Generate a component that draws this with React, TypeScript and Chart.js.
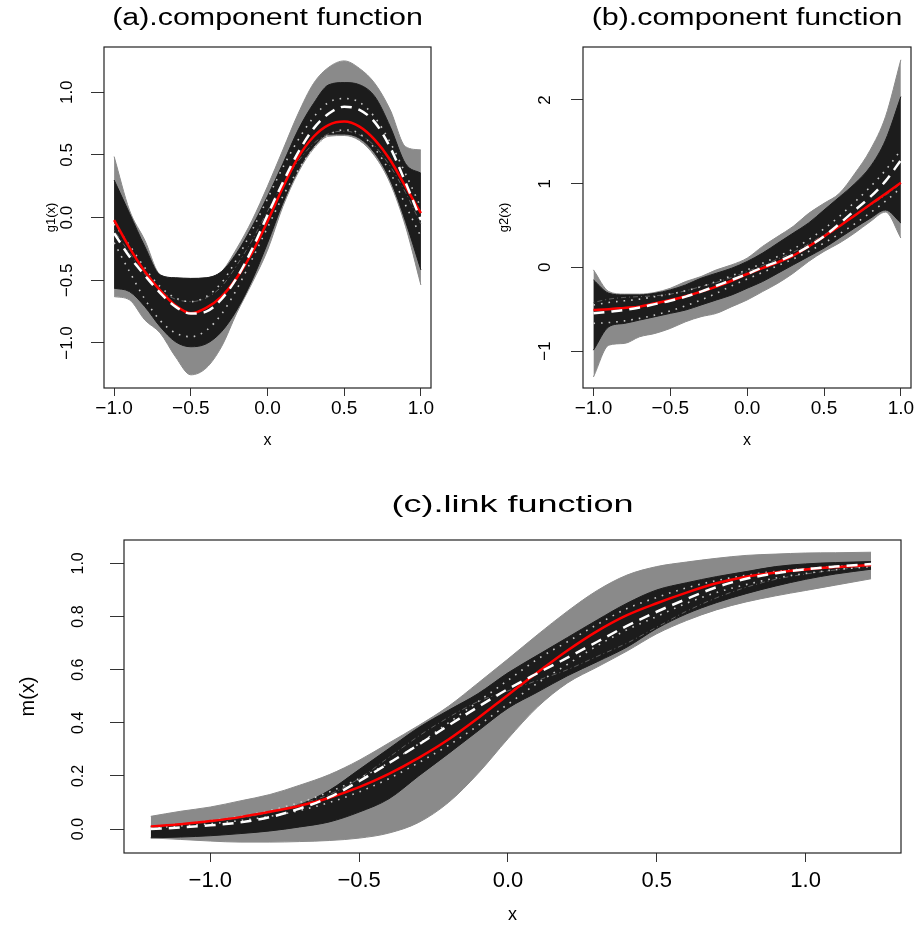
import React, { useEffect, useRef } from 'react';
import { Chart, registerables } from 'chart.js';

Chart.register(...registerables);

const FONT = '"Liberation Sans", Arial, Helvetica, sans-serif';
Chart.defaults.font.family = FONT;
Chart.defaults.color = '#000';

// ---------- panel (a) ----------
const xsA = [-1, -0.9, -0.8, -0.7, -0.6, -0.5, -0.4, -0.3, -0.2, -0.1, 0, 0.1, 0.2, 0.3, 0.4, 0.5, 0.6, 0.7, 0.8, 0.9, 1];
const aTruth = [-0.02, -0.24, -0.43, -0.58, -0.7, -0.763, -0.72, -0.63, -0.48, -0.28, -0.03, 0.24, 0.48, 0.645, 0.74, 0.766, 0.726, 0.62, 0.46, 0.247, 0.035];
const aMean = [-0.125, -0.31, -0.46, -0.6, -0.71, -0.765, -0.75, -0.65, -0.48, -0.25, 0.02, 0.28, 0.52, 0.71, 0.83, 0.885, 0.86, 0.76, 0.56, 0.28, -0.02];
const aInnerUp = [0.3, 0.035, -0.23, -0.457, -0.48, -0.485, -0.48, -0.43, -0.28, -0.07, 0.17, 0.43, 0.7, 0.91, 1.06, 1.077, 1.06, 0.965, 0.726, 0.43, 0.354];
const aInnerLo = [-0.563, -0.59, -0.71, -0.87, -0.99, -1.03, -1.007, -0.91, -0.736, -0.497, -0.204, 0.115, 0.38, 0.566, 0.665, 0.667, 0.633, 0.513, 0.3, -0.03, -0.417];
const aOuterUp = [0.487, 0.06, -0.18, -0.455, -0.48, -0.485, -0.48, -0.43, -0.245, -0.02, 0.25, 0.54, 0.83, 1.07, 1.2, 1.25, 1.19, 1.07, 0.86, 0.566, 0.54];
const aOuterLo = [-0.63, -0.656, -0.816, -0.92, -1.11, -1.254, -1.2, -1.03, -0.76, -0.52, -0.26, 0.088, 0.36, 0.55, 0.65, 0.655, 0.615, 0.49, 0.274, -0.07, -0.537];
const aDotUp = [-0.05, -0.22, -0.4, -0.55, -0.64, -0.67, -0.63, -0.52, -0.33, -0.1, 0.15, 0.4, 0.62, 0.8, 0.92, 0.95, 0.92, 0.8, 0.6, 0.35, 0.08];
const aDotLo = [-0.2, -0.43, -0.65, -0.82, -0.92, -0.95, -0.9, -0.77, -0.57, -0.33, -0.08, 0.17, 0.38, 0.55, 0.66, 0.7, 0.67, 0.55, 0.36, 0.1, -0.15];
const aDashDot = [-0.1, -0.28, -0.45, -0.58, -0.65, -0.67, -0.64, -0.55, -0.38, -0.18, 0.05, 0.27, 0.45, 0.59, 0.67, 0.69, 0.66, 0.57, 0.41, 0.2, -0.05];
const aXTicks = [-1, -0.5, 0, 0.5, 1];
const aXLabels = ['\u22121.0', '\u22120.5', '0.0', '0.5', '1.0'];
const aYTicks = [-1, -0.5, 0, 0.5, 1];
const aYLabels = ['\u22121.0', '\u22120.5', '0.0', '0.5', '1.0'];

// ---------- panel (b) ----------
const xsB = [-1, -0.9, -0.8, -0.7, -0.6, -0.5, -0.4, -0.3, -0.2, -0.1, 0, 0.1, 0.2, 0.3, 0.4, 0.5, 0.6, 0.7, 0.8, 0.9, 1];
const bTruth = [-0.51, -0.5, -0.485, -0.47, -0.43, -0.39, -0.345, -0.29, -0.23, -0.16, -0.08, -0.01, 0.06, 0.14, 0.25, 0.37, 0.49, 0.62, 0.75, 0.88, 1.01];
const bMean = [-0.55, -0.53, -0.51, -0.48, -0.44, -0.4, -0.35, -0.29, -0.22, -0.15, -0.08, 0.0, 0.07, 0.15, 0.25, 0.37, 0.52, 0.68, 0.84, 1.03, 1.28];
const bInnerUp = [-0.15, -0.31, -0.33, -0.33, -0.31, -0.27, -0.21, -0.13, -0.07, -0.01, 0.07, 0.17, 0.29, 0.41, 0.53, 0.685, 0.84, 1.0, 1.2, 1.52, 2.04];
const bInnerLo = [-0.99, -0.71, -0.67, -0.63, -0.59, -0.55, -0.51, -0.45, -0.39, -0.33, -0.25, -0.17, -0.07, 0.03, 0.13, 0.23, 0.35, 0.47, 0.585, 0.685, 0.53];
const bOuterUp = [-0.03, -0.29, -0.32, -0.32, -0.3, -0.25, -0.17, -0.11, -0.03, 0.03, 0.11, 0.25, 0.37, 0.49, 0.645, 0.765, 0.884, 1.12, 1.4, 1.8, 2.48];
const bOuterLo = [-1.31, -0.93, -0.91, -0.83, -0.79, -0.73, -0.65, -0.59, -0.55, -0.47, -0.39, -0.29, -0.19, -0.07, 0.07, 0.19, 0.29, 0.41, 0.545, 0.66, 0.35];
const bDotUp = [-0.45, -0.42, -0.4, -0.38, -0.35, -0.32, -0.28, -0.23, -0.17, -0.1, -0.03, 0.05, 0.13, 0.22, 0.33, 0.46, 0.61, 0.78, 0.96, 1.16, 1.4];
const bDotLo = [-0.67, -0.66, -0.64, -0.61, -0.57, -0.52, -0.46, -0.39, -0.31, -0.22, -0.14, -0.06, 0.02, 0.1, 0.19, 0.29, 0.4, 0.52, 0.65, 0.79, 0.95];
const bDashDot = [-0.42, -0.38, -0.36, -0.35, -0.34, -0.32, -0.28, -0.23, -0.18, -0.12, -0.05, 0.02, 0.1, 0.18, 0.28, 0.39, 0.5, 0.62, 0.74, 0.86, 1.0];
const bXTicks = [-1, -0.5, 0, 0.5, 1];
const bXLabels = ['\u22121.0', '\u22120.5', '0.0', '0.5', '1.0'];
const bYTicks = [-1, 0, 1, 2];
const bYLabels = ['\u22121', '0', '1', '2'];

// ---------- panel (c) ----------
const xsC = [-1.2, -1.1, -1.0, -0.9, -0.8, -0.7, -0.6, -0.5, -0.4, -0.3, -0.2, -0.1, 0, 0.1, 0.2, 0.3, 0.4, 0.5, 0.6, 0.7, 0.8, 0.9, 1.0, 1.1, 1.22];
const cTruth = [0.01, 0.018, 0.03, 0.045, 0.065, 0.088, 0.118, 0.158, 0.208, 0.268, 0.337, 0.418, 0.505, 0.59, 0.672, 0.745, 0.805, 0.85, 0.89, 0.925, 0.95, 0.966, 0.977, 0.986, 0.994];
const cMean = [0.0, 0.006, 0.014, 0.025, 0.045, 0.077, 0.12, 0.18, 0.248, 0.318, 0.39, 0.46, 0.527, 0.587, 0.645, 0.705, 0.765, 0.818, 0.866, 0.91, 0.942, 0.963, 0.978, 0.988, 0.998];
const cInnerUp = [0.01, 0.017, 0.025, 0.04, 0.06, 0.092, 0.146, 0.224, 0.303, 0.382, 0.447, 0.51, 0.588, 0.655, 0.721, 0.787, 0.85, 0.9, 0.927, 0.95, 0.969, 0.988, 0.998, 1.003, 1.007];
const cInnerLo = [-0.033, -0.03, -0.025, -0.017, -0.007, 0.008, 0.027, 0.064, 0.114, 0.2, 0.284, 0.37, 0.455, 0.516, 0.577, 0.63, 0.685, 0.755, 0.81, 0.852, 0.886, 0.915, 0.94, 0.96, 0.978];
const cOuterUp = [0.048, 0.067, 0.083, 0.106, 0.13, 0.165, 0.205, 0.259, 0.324, 0.39, 0.462, 0.55, 0.64, 0.732, 0.82, 0.898, 0.956, 0.988, 1.005, 1.019, 1.03, 1.035, 1.039, 1.04, 1.042];
const cOuterLo = [-0.033, -0.039, -0.045, -0.049, -0.049, -0.047, -0.043, -0.034, -0.015, 0.025, 0.1, 0.21, 0.34, 0.46, 0.55, 0.61, 0.67, 0.735, 0.785, 0.825, 0.855, 0.878, 0.898, 0.918, 0.942];
const cDotUp = [0.01, 0.02, 0.032, 0.048, 0.07, 0.1, 0.14, 0.19, 0.25, 0.32, 0.4, 0.48, 0.56, 0.64, 0.705, 0.77, 0.83, 0.872, 0.908, 0.935, 0.955, 0.97, 0.98, 0.988, 0.995];
const cDotLo = [0.005, 0.012, 0.02, 0.032, 0.048, 0.07, 0.1, 0.14, 0.19, 0.25, 0.315, 0.39, 0.47, 0.55, 0.62, 0.69, 0.75, 0.8, 0.85, 0.89, 0.92, 0.945, 0.962, 0.976, 0.988];
const cDashDot = [0.01, 0.02, 0.03, 0.045, 0.065, 0.095, 0.13, 0.19, 0.27, 0.35, 0.42, 0.48, 0.52, 0.56, 0.6, 0.65, 0.7, 0.76, 0.82, 0.87, 0.91, 0.94, 0.96, 0.975, 0.99];
const cXTicks = [-1, -0.5, 0, 0.5, 1];
const cXLabels = ['\u22121.0', '\u22120.5', '0.0', '0.5', '1.0'];
const cYTicks = [0, 0.2, 0.4, 0.6, 0.8, 1.0];
const cYLabels = ['0.0', '0.2', '0.4', '0.6', '0.8', '1.0'];

const GREY = '#8a8a8a';
const DARK = '#1c1c1c';

function pts(xs: number[], ys: number[]) {
  return xs.map((x, i) => ({ x, y: ys[i] }));
}

function maxTextWidth(labels: string[], size: number) {
  const c = document.createElement('canvas').getContext('2d') as CanvasRenderingContext2D;
  c.font = `${size}px ${FONT}`;
  return Math.max(...labels.map((l) => c.measureText(l).width));
}

const boxPlugin = {
  id: 'rbox',
  afterDatasetsDraw(chart: any) {
    const { ctx, chartArea: a } = chart;
    ctx.save();
    ctx.strokeStyle = '#222';
    ctx.lineWidth = 1.2;
    ctx.strokeRect(a.left, a.top, a.right - a.left, a.bottom - a.top);
    ctx.restore();
  },
};

const titlePlugin = {
  id: 'rtitle',
  afterDraw(chart: any, _args: any, opts: any) {
    if (!opts || !opts.text) return;
    const { ctx, chartArea: a } = chart;
    ctx.save();
    ctx.translate((a.left + a.right) / 2, opts.y);
    ctx.scale(opts.sx, 1);
    ctx.font = `${opts.size}px ${FONT}`;
    ctx.fillStyle = '#000';
    ctx.textAlign = 'center';
    ctx.textBaseline = 'middle';
    ctx.fillText(opts.text, 0, 0);
    ctx.restore();
  },
};

type Spec = {
  left: number; top: number; w: number; h: number;
  plotLeft: number; plotTop: number; plotRight: number; plotBottom: number;
  xMin: number; xMax: number; yMin: number; yMax: number;
  xs: number[]; truth: number[]; mean: number[];
  innerUp: number[]; innerLo: number[]; outerUp: number[]; outerLo: number[];
  dotUp: number[]; dotLo: number[]; dashDot: number[];
  xTicks: number[]; xLabels: string[]; yTicks: number[]; yLabels: string[];
  xTickLen: number; xTickSize: number; xTickPad: number; xTitleSize: number; xTitlePadB: number;
  yTickLen: number; yTickSize: number; yLabelCenter: number;
  yTitle: string; yTitleSize: number; yTitlePadT: number;
  title: string; titleY: number; titleSize: number; titleSx: number;
};

function bandDs(xs: number[], ys: number[], color: string, order: number, fill: boolean) {
  return {
    data: pts(xs, ys),
    borderColor: color,
    backgroundColor: color,
    borderWidth: 1,
    pointRadius: 0,
    fill: fill ? '+1' : false,
    cubicInterpolationMode: 'monotone',
    order,
  };
}

function lineDs(xs: number[], ys: number[], color: string, width: number, dash: number[], order: number) {
  return {
    data: pts(xs, ys),
    borderColor: color,
    backgroundColor: color,
    borderWidth: width,
    borderDash: dash,
    pointRadius: 0,
    fill: false,
    cubicInterpolationMode: 'monotone',
    order,
  };
}

function buildConfig(s: Spec): any {
  const yPad = s.plotLeft - s.yTickLen - s.yLabelCenter - maxTextWidth(s.yLabels, s.yTickSize) / 2;
  return {
    type: 'line',
    data: {
      datasets: [
        bandDs(s.xs, s.outerUp, GREY, 10, true),
        bandDs(s.xs, s.outerLo, GREY, 10, false),
        bandDs(s.xs, s.innerUp, DARK, 9, true),
        bandDs(s.xs, s.innerLo, DARK, 9, false),
        lineDs(s.xs, s.dotUp, '#c8c8c8', 1.6, [1.6, 6], 5),
        lineDs(s.xs, s.dotLo, '#c8c8c8', 1.6, [1.6, 6], 5),
        lineDs(s.xs, s.dashDot, '#5e5e5e', 1, [1, 3, 5, 3], 5),
        lineDs(s.xs, s.truth, '#ff0000', 2.5, [], 2),
        lineDs(s.xs, s.mean, '#ffffff', 2.5, [11, 7], 1),
      ],
    },
    options: {
      responsive: false,
      animation: false,
      devicePixelRatio: 1,
      events: [],
      layout: { padding: { top: s.plotTop, right: s.w - s.plotRight, left: 0, bottom: 0 } },
      plugins: {
        legend: { display: false },
        tooltip: { enabled: false },
        rtitle: { text: s.title, y: s.titleY, size: s.titleSize, sx: s.titleSx },
      },
      scales: {
        x: {
          type: 'linear',
          min: s.xMin,
          max: s.xMax,
          afterBuildTicks: (sc: any) => { sc.ticks = s.xTicks.map((v) => ({ value: v })); },
          afterFit: (sc: any) => { sc.height = s.h - s.plotBottom; sc.paddingLeft = 0; sc.paddingRight = 0; },
          grid: { display: true, drawOnChartArea: false, drawTicks: true, tickLength: s.xTickLen, color: '#333', lineWidth: 1 },
          border: { display: false },
          ticks: {
            autoSkip: false, minRotation: 0, maxRotation: 0, padding: s.xTickPad,
            font: { size: s.xTickSize }, color: '#000',
            callback: (_v: any, i: number) => s.xLabels[i],
          },
          title: { display: true, text: 'x', font: { size: s.xTitleSize }, color: '#000', padding: { top: 0, bottom: s.xTitlePadB } },
        },
        y: {
          type: 'linear',
          position: 'left',
          min: s.yMin,
          max: s.yMax,
          afterBuildTicks: (sc: any) => { sc.ticks = s.yTicks.map((v) => ({ value: v })); },
          afterFit: (sc: any) => { sc.width = s.plotLeft; sc.paddingTop = 0; sc.paddingBottom = 0; },
          grid: { display: true, drawOnChartArea: false, drawTicks: true, tickLength: s.yTickLen, color: '#333', lineWidth: 1 },
          border: { display: false },
          ticks: {
            autoSkip: false, minRotation: 90, maxRotation: 90, crossAlign: 'center', padding: yPad,
            font: { size: s.yTickSize }, color: '#000',
            callback: (_v: any, i: number) => s.yLabels[i],
          },
          title: { display: true, text: s.yTitle, font: { size: s.yTitleSize }, color: '#000', padding: { top: s.yTitlePadT, bottom: 0 } },
        },
      },
    },
    plugins: [boxPlugin, titlePlugin],
  };
}

const specA: Spec = {
  left: 0, top: 0, w: 460, h: 460,
  plotLeft: 104, plotTop: 47, plotRight: 431, plotBottom: 388,
  xMin: -1.066, xMax: 1.066, yMin: -1.359, yMax: 1.361,
  xs: xsA, truth: aTruth, mean: aMean, innerUp: aInnerUp, innerLo: aInnerLo, outerUp: aOuterUp, outerLo: aOuterLo,
  dotUp: aDotUp, dotLo: aDotLo, dashDot: aDashDot,
  xTicks: aXTicks, xLabels: aXLabels, yTicks: aYTicks, yLabels: aYLabels,
  xTickLen: 8, xTickSize: 19, xTickPad: 1, xTitleSize: 16, xTitlePadB: 9.4,
  yTickLen: 13, yTickSize: 17, yLabelCenter: 67.5,
  yTitle: 'g1(x)', yTitleSize: 13, yTitlePadT: 44,
  title: '(a).component function', titleY: 19, titleSize: 23, titleSx: 1.32,
};

const specB: Spec = {
  left: 460, top: 0, w: 459, h: 460,
  plotLeft: 123, plotTop: 47, plotRight: 451, plotBottom: 388,
  xMin: -1.068, xMax: 1.066, yMin: -1.442, yMax: 2.633,
  xs: xsB, truth: bTruth, mean: bMean, innerUp: bInnerUp, innerLo: bInnerLo, outerUp: bOuterUp, outerLo: bOuterLo,
  dotUp: bDotUp, dotLo: bDotLo, dashDot: bDashDot,
  xTicks: bXTicks, xLabels: bXLabels, yTicks: bYTicks, yLabels: bYLabels,
  xTickLen: 8, xTickSize: 19, xTickPad: 1, xTitleSize: 16, xTitlePadB: 9.4,
  yTickLen: 12, yTickSize: 17, yLabelCenter: 85,
  yTitle: 'g2(x)', yTitleSize: 13, yTitlePadT: 37,
  title: '(b).component function', titleY: 19, titleSize: 23, titleSx: 1.32,
};

const specC: Spec = {
  left: 0, top: 470, w: 919, h: 456,
  plotLeft: 124, plotTop: 70, plotRight: 901, plotBottom: 383,
  xMin: -1.29, xMax: 1.3206, yMin: -0.09, yMax: 1.088,
  xs: xsC, truth: cTruth, mean: cMean, innerUp: cInnerUp, innerLo: cInnerLo, outerUp: cOuterUp, outerLo: cOuterLo,
  dotUp: cDotUp, dotLo: cDotLo, dashDot: cDashDot,
  xTicks: cXTicks, xLabels: cXLabels, yTicks: cYTicks, yLabels: cYLabels,
  xTickLen: 9, xTickSize: 22, xTickPad: 5.8, xTitleSize: 18, xTitlePadB: 0.2,
  yTickLen: 14, yTickSize: 16, yLabelCenter: 78.5,
  yTitle: 'm(x)', yTitleSize: 20, yTitlePadT: 16,
  title: '(c).link function', titleY: 35.5, titleSize: 24, titleSx: 1.5,
};

function Panel({ spec }: { spec: Spec }) {
  const ref = useRef<HTMLCanvasElement | null>(null);
  useEffect(() => {
    if (!ref.current) return;
    const chart = new Chart(ref.current, buildConfig(spec));
    return () => chart.destroy();
  }, [spec]);
  return (
    <canvas
      ref={ref}
      width={spec.w}
      height={spec.h}
      style={{ position: 'absolute', left: spec.left, top: spec.top, width: spec.w, height: spec.h, display: 'block' }}
    />
  );
}

export default function App() {
  return (
    <div style={{ position: 'absolute', left: 0, top: 0, width: 919, height: 926, background: '#fff', overflow: 'hidden' }}>
      <Panel spec={specA} />
      <Panel spec={specB} />
      <Panel spec={specC} />
    </div>
  );
}
